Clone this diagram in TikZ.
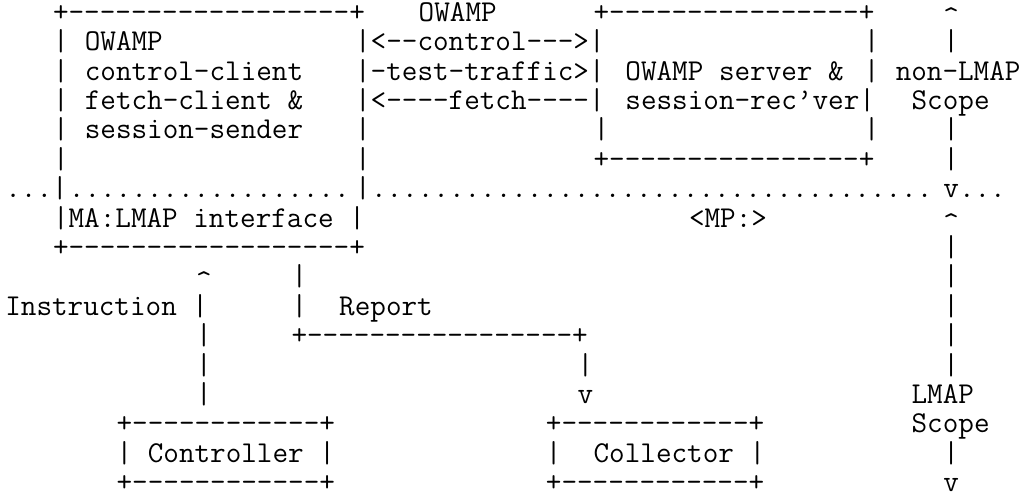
\documentclass[tikz,border=0pt]{standalone}
\usepackage{fontspec}
\usepackage{tikz}
\newfontfamily\asciifont{Latin Modern Mono}
\newcommand{\caret}{\raisebox{-2.5pt}[6pt][0pt]{\textasciicircum}}

\begin{document}
\begin{tikzpicture}[x=7.95pt, y=-14.7pt,
  asc/.style={anchor=base west, inner sep=0pt, yshift=-4pt,
    font=\asciifont\fontsize{15.14pt}{14.7pt}\selectfont}]
\useasboundingbox (-0.31,0.55) rectangle (64.72,17.42);
\begin{scope}
% row 1
\node[asc] (matop) at (3,1) {+------------------+};
\node[asc] (owamp) at (26,1) {OWAMP};
\node[asc] (srvtop) at (37,1) {+----------------+};
\node[asc] (nontip) at (59,1) {\caret};
% row 2
\node[asc] (maL2) at (3,2) {|};
\node[asc] (maname) at (5,2) {OWAMP};
\node[asc] (ctrl) at (22,2) {|<--control--->|};
\node[asc] (srvR2) at (54,2) {|};
\node[asc] (non2) at (59,2) {|};
% row 3
\node[asc] (maL3) at (3,3) {|};
\node[asc] (macc) at (5,3) {control-client};
\node[asc] (test) at (22,3) {|-test-traffic>|};
\node[asc] (srvname) at (39,3) {OWAMP server \&};
\node[asc] (srvR3) at (54,3) {|};
\node[asc] (nonlmap) at (56,3) {non-LMAP};
% row 4
\node[asc] (maL4) at (3,4) {|};
\node[asc] (mafc) at (5,4) {fetch-client \&};
\node[asc] (fetch) at (22,4) {|<----fetch----|};
\node[asc] (srvrec) at (39,4) {session-rec’ver|};
\node[asc] (nonscope) at (57,4) {Scope};
% row 5
\node[asc] (maL5) at (3,5) {|};
\node[asc] (mass) at (5,5) {session-sender};
\node[asc] (maR5) at (22,5) {|};
\node[asc] (srvL5) at (37,5) {|};
\node[asc] (srvR5) at (54,5) {|};
\node[asc] (non5) at (59,5) {|};
% row 6
\node[asc] (maL6) at (3,6) {|};
\node[asc] (maR6) at (22,6) {|};
\node[asc] (srvbot) at (37,6) {+----------------+};
\node[asc] (non6) at (59,6) {|};
% row 7
\node[asc] (mpleft) at (0,7) {...|};
\node[asc] (mpinner) at (4,7) {..................};
\node[asc] (mpbar) at (22,7) {|};
\node[asc] (mpline) at (23,7) {....................................};
\node[asc] (mpright) at (59,7) {v...};
% row 8
\node[asc] (maif) at (3,8) {|MA:LMAP interface |};
\node[asc] (mp) at (43,8) {<MP:>};
\node[asc] (lmaptip) at (59,8) {\caret};
% row 9
\node[asc] (mabot) at (3,9) {+------------------+};
\node[asc] (lmap9) at (59,9) {|};
% row 10
\node[asc] (insttip) at (12,10) {\caret};
\node[asc] (rep10) at (18,10) {|};
\node[asc] (lmap10) at (59,10) {|};
% row 11
\node[asc] (inst) at (0,11) {Instruction |};
\node[asc] (rep11) at (18,11) {|};
\node[asc] (report) at (21,11) {Report};
\node[asc] (lmap11) at (59,11) {|};
% row 12
\node[asc] (inst12) at (12,12) {|};
\node[asc] (repbend) at (18,12) {+-----------------+};
\node[asc] (lmap12) at (59,12) {|};
% row 13
\node[asc] (inst13) at (12,13) {|};
\node[asc] (rep13) at (36,13) {|};
\node[asc] (lmap13) at (59,13) {|};
% row 14
\node[asc] (inst14) at (12,14) {|};
\node[asc] (reptip) at (36,14) {v};
\node[asc] (lmap) at (57,14) {LMAP};
% row 15
\node[asc] (ctltop) at (7,15) {+------------+};
\node[asc] (coltop) at (34,15) {+------------+};
\node[asc] (lmapscope) at (57,15) {Scope};
% row 16
\node[asc] (ctl) at (7,16) {| Controller |};
\node[asc] (colL) at (34,16) {|};
\node[asc] (col) at (37,16) {Collector |};
\node[asc] (lmap16) at (59,16) {|};
% row 17
\node[asc] (ctlbot) at (7,17) {+------------+};
\node[asc] (colbot) at (34,17) {+------------+};
\node[asc] (lmaptip2) at (59,17) {v};
\end{scope}
\end{tikzpicture}
\end{document}
